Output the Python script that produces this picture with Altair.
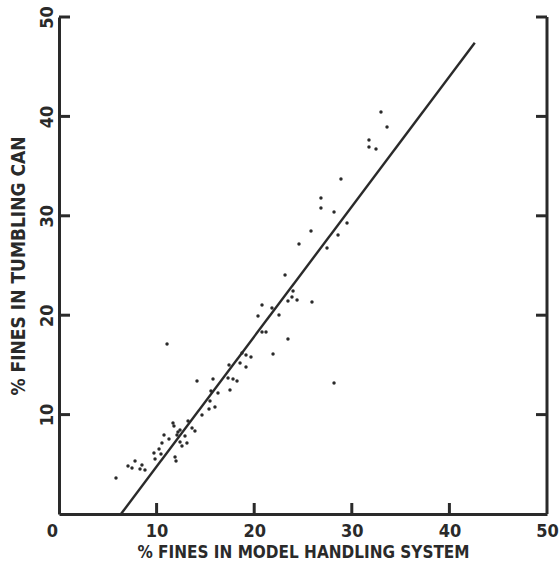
import altair as alt
import pandas as pd

# Observed points (% fines in model handling system vs % fines in tumbling can)
x_vals = [5.84, 7.07, 7.48, 7.79, 8.30, 8.50, 8.81, 9.73, 9.84, 10.25,
          10.45, 10.55, 10.76, 11.27, 11.68, 11.78, 11.89, 11.99, 12.09, 12.19,
          12.40, 12.40, 12.60, 12.91, 13.11, 13.22, 13.63, 13.93, 14.65, 11.07,
          14.14, 15.37, 15.47, 15.57, 15.78, 15.98, 16.29, 17.32, 17.42, 17.52,
          17.83, 18.24, 18.55, 18.75, 19.16, 19.16, 19.67, 20.39, 20.80, 20.80,
          21.21, 21.82, 21.93, 22.54, 23.16, 23.46, 23.46, 23.87, 23.98, 24.39,
          24.59, 25.92, 25.82, 26.84, 26.84, 27.46, 28.18, 28.18, 28.59, 28.89,
          29.51, 31.76, 31.76, 32.48, 32.99, 33.61]
y_vals = [3.62, 4.83, 4.63, 5.33, 4.53, 4.93, 4.43, 6.14, 5.53, 6.54,
          6.04, 7.14, 7.95, 7.55, 9.15, 8.85, 5.73, 5.33, 7.95, 8.25,
          8.45, 7.24, 6.84, 7.85, 7.14, 9.36, 8.65, 8.35, 9.96, 17.10,
          13.38, 10.56, 11.37, 12.37, 13.58, 10.76, 12.17, 13.68, 14.99, 12.47,
          13.58, 13.38, 15.19, 16.20, 16.00, 14.79, 15.79, 19.92, 21.03, 18.31,
          18.31, 20.72, 16.10, 20.02, 24.04, 21.43, 17.61, 21.83, 22.43, 21.53,
          27.16, 21.33, 28.47, 31.79, 30.78, 26.76, 30.38, 13.18, 28.07, 33.70,
          29.28, 37.63, 36.92, 36.72, 40.44, 38.93]

# Fitted line end points
fit_x = [6.35, 42.6]
fit_y = [0.0, 47.4]

x_label_values = [0, 10, 20, 30, 40, 50]
y_label_values = [10, 20, 30, 40, 50]
x_ticks = [10, 20, 30, 40]
y_ticks = [10, 20, 30, 40, 50]

W, H = 488, 497
FONT = "DejaVu Sans Condensed"
INK = "#2a2a2a"
TICK = 11

pts = pd.DataFrame({"x": x_vals, "y": y_vals})
fit = pd.DataFrame({"x": fit_x, "y": fit_y})
xt = pd.DataFrame({"t": x_ticks})
yt = pd.DataFrame({"t": y_ticks})

xs = alt.Scale(domain=[0, 50], nice=False, zero=False)
ys = alt.Scale(domain=[0, 50], nice=False, zero=False)

xaxis = alt.Axis(
    title="% FINES IN MODEL HANDLING SYSTEM",
    values=x_label_values, ticks=False, grid=False,
    domainColor=INK, domainWidth=3,
    labelFont=FONT, labelFontWeight="bold", labelFontSize=18, labelColor=INK,
    labelPadding=8, labelFlush=False,
    labelOffset={"condition": {"test": "datum.value == 0", "value": -7}, "value": 0},
    titleFont=FONT, titleFontWeight="bold", titleFontSize=17, titleColor=INK,
    titlePadding=4,
)
yaxis = alt.Axis(
    title="% FINES IN TUMBLING CAN",
    values=y_label_values, ticks=False, grid=False,
    domainColor=INK, domainWidth=3,
    labelFont=FONT, labelFontWeight="bold", labelFontSize=18, labelColor=INK,
    labelAngle=270, labelAlign="center", labelBaseline="alphabetic",
    labelPadding=7, labelFlush=False,
    titleFont=FONT, titleFontWeight="bold", titleFontSize=19, titleColor=INK,
    titlePadding=10,
)

points = alt.Chart(pts).mark_circle(size=12, color=INK, opacity=1).encode(
    x=alt.X("x:Q", scale=xs, axis=xaxis),
    y=alt.Y("y:Q", scale=ys, axis=yaxis),
)

line = alt.Chart(fit).mark_line(color=INK, strokeWidth=2.4).encode(
    x=alt.X("x:Q", scale=xs),
    y=alt.Y("y:Q", scale=ys),
)

right_axis = alt.Chart(pd.DataFrame({"a": [0]})).mark_rule(color=INK, strokeWidth=3).encode(
    x=alt.datum(50, scale=xs),
    y=alt.datum(0, scale=ys),
    y2=alt.datum(50),
)

bottom_ticks = alt.Chart(xt).mark_rule(color=INK, strokeWidth=3).encode(
    x=alt.X("t:Q", scale=xs),
    y=alt.value(H),
    y2=alt.value(H - TICK),
)
left_ticks = alt.Chart(yt).mark_rule(color=INK, strokeWidth=3).encode(
    y=alt.Y("t:Q", scale=ys),
    x=alt.value(0),
    x2=alt.value(TICK),
)
right_ticks = alt.Chart(yt).mark_rule(color=INK, strokeWidth=3).encode(
    y=alt.Y("t:Q", scale=ys),
    x=alt.value(W - TICK),
    x2=alt.value(W),
)

chart = alt.layer(
    right_axis, bottom_ticks, left_ticks, right_ticks, line, points
).properties(
    width=W, height=H,
    autosize=alt.AutoSizeParams(type="none"),
    padding={"left": 59, "top": 17, "right": 13, "bottom": 49},
    background="white",
).configure_view(stroke=None)

chart.save("out.html", embed_options={"renderer": "svg", "actions": False})
